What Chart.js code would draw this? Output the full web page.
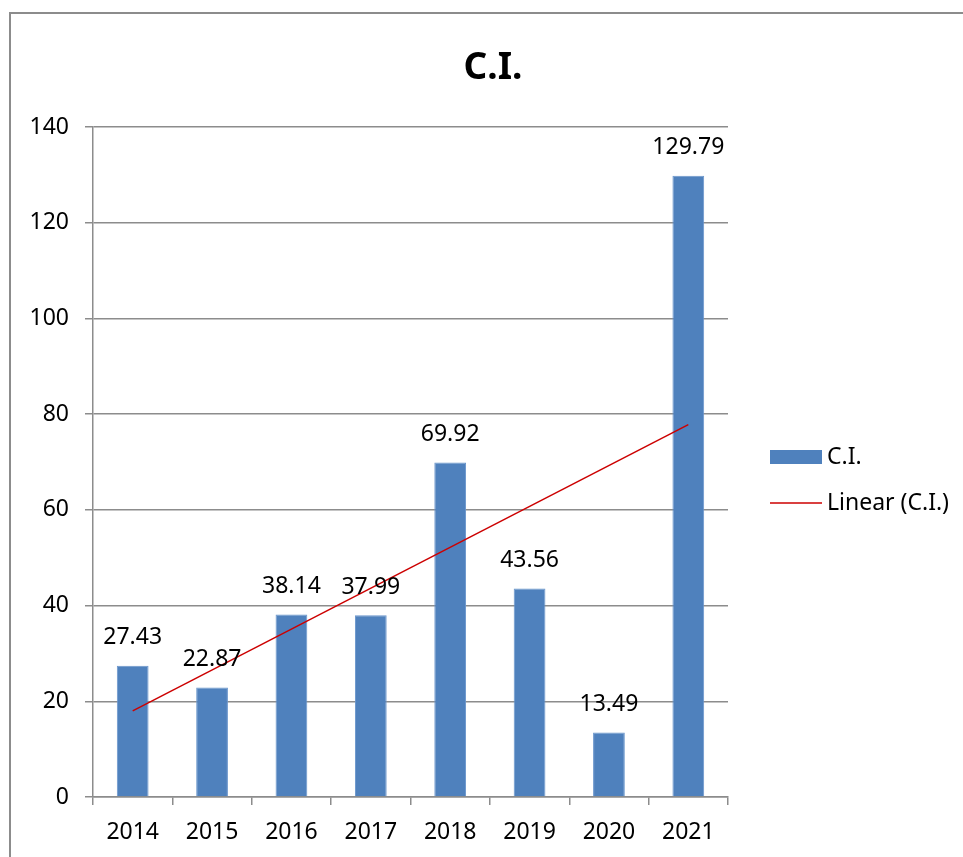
<!DOCTYPE html>
<html lang="en">
<head>
    <meta charset="UTF-8">
    <title>C.I.</title>
    <script src="https://cdn.jsdelivr.net/npm/chart.js@4.4.1/dist/chart.umd.min.js"></script>
    <style>
        html, body { margin: 0; padding: 0; background: #fff; }
        #wrap { position: relative; width: 963px; height: 857px; }
    </style>
</head>
<body>
<div id="wrap"><canvas id="ciChart" width="963" height="857"></canvas></div>
<script>
// data
const years = ['2014', '2015', '2016', '2017', '2018', '2019', '2020', '2021'];
const ciValues = [27.43, 22.87, 38.14, 37.99, 69.92, 43.56, 13.49, 129.79];
// linear trend line: only the two end points
const trendValues = [18.0, null, null, null, null, null, null, 77.8];
const yTicks = [0, 20, 40, 60, 80, 100, 120, 140];
const chartTitle = 'C.I.';

const FONT = '"Noto Sans", "Liberation Sans", sans-serif';
const GRID = '#8c8c8c';
const BAR = '#4f81bd';
const TREND = '#cc0000';

// frame around the whole chart, title, value labels and legend
const extras = {
    id: 'extras',
    beforeDraw(chart) {
        const ctx = chart.ctx;
        ctx.save();
        ctx.strokeStyle = GRID;
        ctx.lineWidth = 2;
        ctx.strokeRect(10, 13, 1000, 1000);
        ctx.font = 'bold 37px ' + FONT;
        ctx.fillStyle = '#000';
        ctx.textAlign = 'center';
        ctx.textBaseline = 'alphabetic';
        ctx.fillText(chartTitle, 493, 79);
        ctx.restore();
    },
    afterDatasetsDraw(chart) {
        const ctx = chart.ctx;
        const meta = chart.getDatasetMeta(0);
        ctx.save();
        ctx.font = '23px ' + FONT;
        ctx.fillStyle = '#000';
        ctx.textAlign = 'center';
        ctx.textBaseline = 'middle';
        meta.data.forEach((bar, i) => {
            ctx.fillText(ciValues[i].toFixed(2), bar.x, bar.y - 28);
        });
        ctx.restore();
    },
    afterDraw(chart) {
        const ctx = chart.ctx;
        const ds = chart.data.datasets;
        const x = chart.chartArea.right + 42;
        ctx.save();
        ctx.font = '23px ' + FONT;
        ctx.textBaseline = 'middle';
        ctx.fillStyle = ds[0].backgroundColor;
        ctx.fillRect(x, 450, 52, 14);
        ctx.strokeStyle = ds[1].borderColor;
        ctx.lineWidth = 1.5;
        ctx.beginPath();
        ctx.moveTo(x, 503);
        ctx.lineTo(x + 52, 503);
        ctx.stroke();
        ctx.fillStyle = '#000';
        ctx.fillText(ds[0].label, x + 57, 457);
        ctx.fillText(ds[1].label, x + 57, 503);
        ctx.restore();
    }
};

new Chart(document.getElementById('ciChart'), {
    type: 'bar',
    data: {
        labels: years,
        datasets: [{
            label: 'C.I.',
            data: ciValues,
            backgroundColor: BAR,
            borderColor: '#6a96cc',
            borderWidth: 1,
            barPercentage: 0.8,
            categoryPercentage: 0.5,
            order: 2
        }, {
            type: 'line',
            label: 'Linear (C.I.)',
            data: trendValues,
            borderColor: TREND,
            borderWidth: 1.5,
            pointRadius: 0,
            spanGaps: true,
            fill: false,
            order: 1
        }]
    },
    options: {
        responsive: false,
        animation: false,
        layout: { padding: { left: 0, right: 235, top: 127, bottom: 0 } },
        plugins: {
            legend: { display: false },
            tooltip: { enabled: false },
            title: { display: false }
        },
        scales: {
            x: {
                grid: {
                    offset: true,
                    drawOnChartArea: false,
                    drawTicks: true,
                    tickLength: 8,
                    color: GRID,
                    lineWidth: 1.5
                },
                border: { color: GRID, width: 1.5 },
                ticks: {
                    color: '#000',
                    font: { family: FONT, size: 23 },
                    padding: 14,
                    maxRotation: 0
                },
                afterFit(scale) { scale.height = 60; }
            },
            y: {
                min: 0,
                max: 140,
                afterBuildTicks(scale) {
                    scale.ticks = yTicks.map(v => ({ value: v }));
                },
                grid: {
                    color: GRID,
                    lineWidth: 1.5,
                    tickLength: 8
                },
                border: { color: GRID, width: 1.5 },
                ticks: {
                    color: '#000',
                    font: { family: FONT, size: 23 },
                    padding: 16
                },
                afterFit(scale) { scale.width = 93; }
            }
        }
    },
    plugins: [extras]
});
</script>
</body>
</html>
